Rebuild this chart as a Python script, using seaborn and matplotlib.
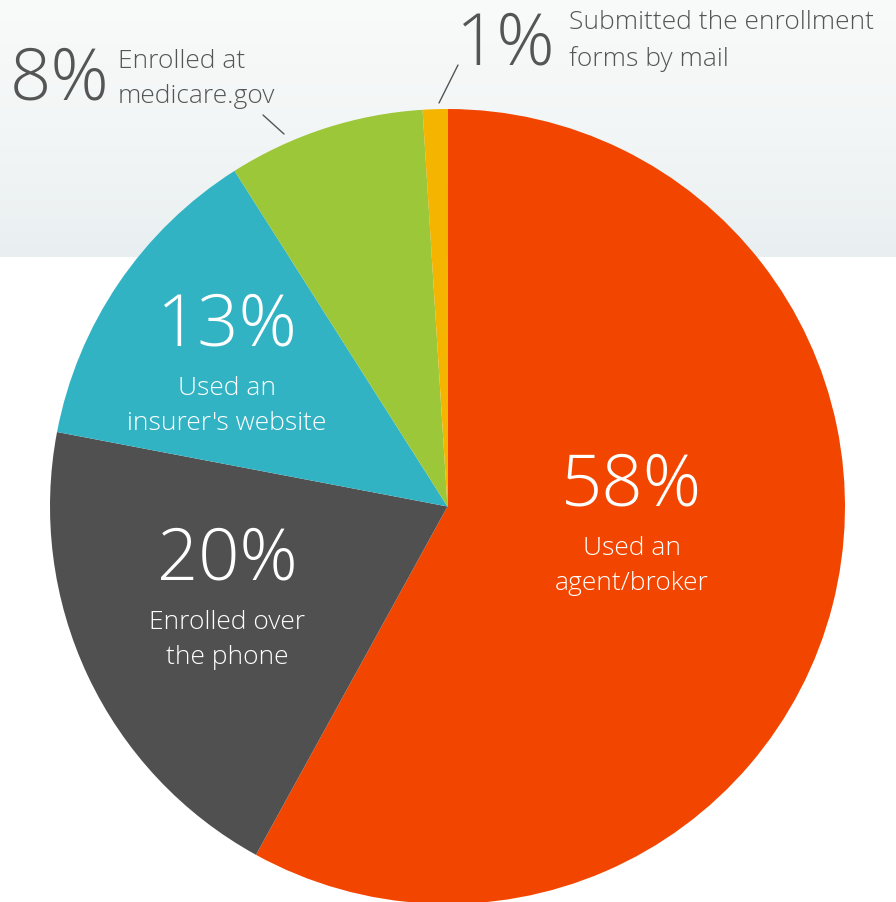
import numpy as np
import matplotlib
matplotlib.use("Agg")
import matplotlib.pyplot as plt
import seaborn as sns
from matplotlib.colors import LinearSegmentedColormap

# ---- data ----
categories = ["Used an agent/broker", "Enrolled over the phone", "Used an insurer's website",
              "Enrolled at medicare.gov", "Submitted the enrollment forms by mail"]
shares = [58, 20, 13, 8, 1]
pct_labels = ["58%", "20%", "13%", "8%", "1%"]
desc_labels = ["Used an\nagent/broker", "Enrolled over\nthe phone", "Used an\ninsurer's website",
               "Enrolled at\nmedicare.gov", "Submitted the enrollment\nforms by mail"]
colors = ["#F24600", "#505050", "#31B3C3", "#9BC738", "#F5B400"]

sns.set_theme(style="white")
plt.rcParams["font.family"] = ["Open Sans", "DejaVu Sans"]

W, H = 896, 903
fig = plt.figure(figsize=(W / 100, H / 100), dpi=100)
ax = fig.add_axes([0, 0, 1, 1])

def Y(ypx):
    return H - ypx

# background band with gradient
grad = np.linspace(0, 1, 256).reshape(-1, 1)
cmap = LinearSegmentedColormap.from_list("bg", ["#F9FAFA", "#F3F6F6", "#E9EFF1"])
ax.imshow(grad, cmap=cmap, aspect="auto", extent=[0, W, Y(258), Y(0)], zorder=0)

cx, cy, r = 447.5, Y(507.5), 397.5
ax.pie(shares, colors=colors, startangle=90, counterclock=False,
       center=(cx, cy), radius=r, frame=False,
       wedgeprops=dict(linewidth=0, zorder=2))

ax.set_xlim(0, W)
ax.set_ylim(0, H)
ax.set_aspect("auto")
ax.axis("off")

big = 52
small = 19
ls = 1.55
white = "white"
grey = "#555555"

# inside labels
inside = {0: (632, 486, 566), 1: (227, 561, 640), 2: (227, 326, 406)}
for i, (x, yp, yd) in inside.items():
    ax.text(x, Y(yp), pct_labels[i], color=white, fontsize=big, fontweight="light",
            ha="center", va="center", zorder=5)
    ax.text(x, Y(yd), desc_labels[i], color=white, fontsize=small, fontweight="light",
            ha="center", va="center", linespacing=ls, zorder=5)

# outside labels
ax.text(60, Y(80), pct_labels[3], color=grey, fontsize=big, fontweight="light",
        ha="center", va="center", zorder=5)
ax.text(118, Y(79), desc_labels[3], color=grey, fontsize=small, fontweight="light",
        ha="left", va="center", linespacing=ls, zorder=5)
ax.text(506, Y(45), pct_labels[4], color=grey, fontsize=big, fontweight="light",
        ha="center", va="center", zorder=5)
ax.text(569, Y(41), desc_labels[4], color=grey, fontsize=small, fontweight="light",
        ha="left", va="center", linespacing=ls, zorder=5)

# leader lines
ax.plot([263, 284], [Y(116), Y(135)], color=grey, lw=1, zorder=5)
ax.plot([458, 439], [Y(66), Y(104)], color=grey, lw=1, zorder=5)

fig.savefig("out.png", dpi=100, facecolor="white")
